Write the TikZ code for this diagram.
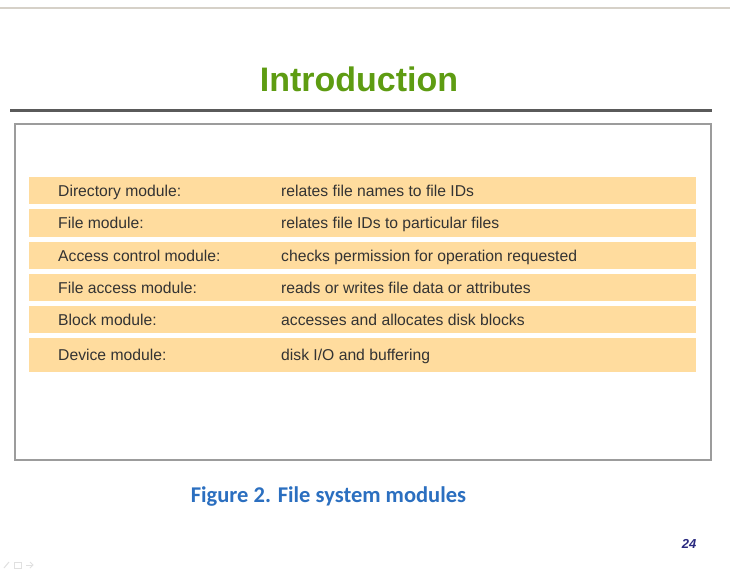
\documentclass[tikz,border=0pt]{standalone}
\usepackage{fontspec}
\setmainfont{Liberation Sans}
\newfontfamily\capfont{Carlito}
\definecolor{titlegreen}{HTML}{5E9C12}
\definecolor{capblue}{HTML}{2B6FC0}
\definecolor{pagenum}{HTML}{2A2A80}
\definecolor{rowfill}{HTML}{FFDC9E}
\definecolor{rowtext}{HTML}{333333}
\definecolor{framegray}{HTML}{9C9C9C}
\definecolor{rulegray}{HTML}{5A5A5A}
\definecolor{topline}{HTML}{D6D1C8}
\tikzset{
  rowbar/.style={fill=rowfill, draw=none, inner sep=0pt, minimum width=667pt},
  modname/.style={anchor=base west, inner sep=0pt, text=rowtext,
    font=\fontsize{15.7}{18}\selectfont},
  slidetitle/.style={anchor=base, inner sep=0pt, text=titlegreen,
    font=\fontsize{34}{40}\selectfont\bfseries},
  figcaption/.style={anchor=base, inner sep=0pt, text=capblue,
    font=\capfont\fontsize{22.5}{26}\selectfont\bfseries},
  pageno/.style={anchor=base, inner sep=0pt, text=pagenum,
    font=\fontsize{13}{15}\selectfont\bfseries\itshape},
}
\begin{document}
\begin{tikzpicture}[x=1pt, y=-1pt]
\useasboundingbox (0,0) rectangle (730,575);
\fill[white] (0,0) rectangle (730,575);

% separator at the top edge
\draw[topline, line width=1.5pt] (0,8) -- (730,8);

% slide title and rule
\node[slidetitle] (title) at (359,92) {Introduction};
\coordinate (ruleL) at (10,111);
\coordinate (ruleR) at (712,111);
\draw[rulegray, line width=3pt] (ruleL) -- (ruleR);

% figure frame
\draw[framegray, line width=2pt] (15,124) rectangle (711,460);

% module rows
\node[rowbar, minimum height=27pt] (r1) at (362.5,190.5) {};
\node[rowbar, minimum height=28pt] (r2) at (362.5,223) {};
\node[rowbar, minimum height=27pt] (r3) at (362.5,255.5) {};
\node[rowbar, minimum height=27pt] (r4) at (362.5,287.5) {};
\node[rowbar, minimum height=27pt] (r5) at (362.5,319.5) {};
\node[rowbar, minimum height=34pt] (r6) at (362.5,355) {};

\node[modname] (n1) at (58,196.2) {Directory module:};
\node[modname] (d1) at (281,196.2) {relates file names to file IDs};
\node[modname] (n2) at (58,228.7) {File module:};
\node[modname] (d2) at (281,228.7) {relates file IDs to particular files};
\node[modname] (n3) at (58,261.2) {Access control module:};
\node[modname] (d3) at (281,261.2) {checks permission for operation requested};
\node[modname] (n4) at (58,293.2) {File access module:};
\node[modname] (d4) at (281,293.2) {reads or writes file data or attributes};
\node[modname] (n5) at (58,325.2) {Block module:};
\node[modname] (d5) at (281,325.2) {accesses and allocates disk blocks};
\node[modname] (n6) at (58,360.7) {Device module:};
\node[modname] (d6) at (281,360.7) {disk I/O and buffering};

% caption and page number
\node[figcaption] (cap) at (328.5,502) {Figure 2. File system modules};
\node[pageno] (pg) at (689,548) {24};

% faint navigation marks, bottom left
\begin{scope}[draw=black!12, line width=1pt]
  \draw (4,568) -- (9,562);
  \draw (14,562) rectangle (21,568);
  \draw (26,565) -- (33,565);
  \draw (30,562) -- (33,565) -- (30,568);
\end{scope}
\end{tikzpicture}
\end{document}
